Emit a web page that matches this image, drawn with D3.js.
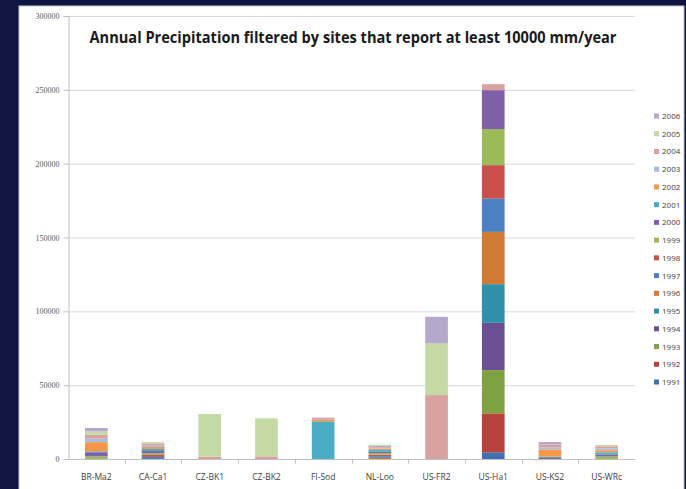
<!DOCTYPE html>
<html>
<head>
<meta charset="utf-8">
<script src="https://cdn.jsdelivr.net/npm/d3@7"></script>
<style>
  html, body { margin: 0; padding: 0; background: #0f1442; }
  svg { display: block; }
  text { font-family: "Open Sans", "Liberation Sans", sans-serif; }
</style>
</head>
<body>
<svg id="chart" width="686" height="489"></svg>
<script>
// Sites on the x axis
const sites = ["BR-Ma2", "CA-Ca1", "CZ-BK1", "CZ-BK2", "FI-Sod", "NL-Loo", "US-FR2", "US-Ha1", "US-KS2", "US-WRc"];

// Years stacked in each bar (bottom to top)
const years = [1991, 1992, 1993, 1994, 1995, 1996, 1997, 1998, 1999, 2000, 2001, 2002, 2003, 2004, 2005, 2006];

// Precipitation per year (rows) and site (columns, same order as sites)
const values = [
  /* 1991 */ [0, 0, 0, 0, 0, 0, 0, 4500, 0, 0],
  /* 1992 */ [0, 0, 0, 0, 0, 0, 0, 26400, 0, 0],
  /* 1993 */ [0, 0, 0, 0, 0, 0, 0, 29300, 0, 0],
  /* 1994 */ [0, 0, 0, 0, 0, 0, 0, 32000, 0, 0],
  /* 1995 */ [0, 0, 0, 0, 0, 0, 0, 26200, 0, 0],
  /* 1996 */ [0, 0, 0, 0, 0, 800, 0, 35400, 0, 0],
  /* 1997 */ [0, 1400, 0, 0, 0, 1100, 0, 22600, 0, 0],
  /* 1998 */ [0, 1300, 0, 0, 0, 1000, 0, 22600, 0, 0],
  /* 1999 */ [1800, 1200, 0, 0, 0, 1100, 0, 24400, 0, 1700],
  /* 2000 */ [2800, 1500, 0, 0, 0, 900, 0, 26400, 700, 1200],
  /* 2001 */ [600, 1400, 0, 0, 25500, 1300, 0, 0, 800, 1600],
  /* 2002 */ [6200, 1300, 0, 0, 1200, 800, 0, 0, 5000, 1400],
  /* 2003 */ [2400, 1200, 0, 0, 0, 1000, 0, 0, 1400, 1300],
  /* 2004 */ [2600, 1300, 1500, 1800, 1300, 900, 43300, 4000, 1900, 1400],
  /* 2005 */ [2400, 800, 29000, 25700, 0, 800, 35000, 0, 0, 900],
  /* 2006 */ [2200, 0, 0, 0, 0, 0, 18000, 0, 1700, 0]
];

// One colour per year
const yearColors = [
  "#3f70af", "#b9413c", "#80a142", "#6b4f95", "#2f90aa", "#d07a32",
  "#4b80c2", "#c9504c", "#9bbb59", "#7f60a8", "#4bacc6", "#f79646",
  "#a7bedc", "#d9a1a0", "#c4d9a3", "#b5a8cb"
];

const yTicks = [0, 50000, 100000, 150000, 200000, 250000, 300000];

const titleText = "Annual Precipitation filtered by sites that report at least 10000 mm/year";

// Build one row per site for the stack layout
const table = sites.map((s, i) => {
  const row = { site: s };
  years.forEach((y, j) => { row[y] = values[j][i]; });
  return row;
});

const svg = d3.select("#chart");

// White panel on the navy background
svg.append("rect")
  .attr("x", 19).attr("y", 6).attr("width", 665).attr("height", 490)
  .attr("fill", "#ffffff")
  .attr("stroke", "#c8c8c8").attr("stroke-width", 1);

const plot = { left: 68, right: 635, top: 16, bottom: 459 };

const x = d3.scaleBand().domain(sites).range([plot.left, plot.right]).paddingInner(0.6).paddingOuter(0.3);
const xOuter = d3.scaleBand().domain(sites).range([plot.left, plot.right]);
const y = d3.scaleLinear().domain([0, 300000]).range([plot.bottom, plot.top]);
const color = d3.scaleOrdinal().domain(years).range(yearColors);

// Gridlines
svg.append("g")
  .selectAll("line")
  .data(yTicks.slice(1))
  .join("line")
  .attr("x1", plot.left).attr("x2", plot.right)
  .attr("y1", d => y(d) + 0.5).attr("y2", d => y(d) + 0.5)
  .attr("stroke", "#d9d9d9").attr("stroke-width", 1);

// Y axis
const yAxis = svg.append("g")
  .attr("transform", `translate(${plot.left + 0.5},0)`)
  .call(d3.axisLeft(y).tickValues(yTicks).tickSize(5).tickPadding(4).tickFormat(d3.format("d")));
yAxis.select(".domain").attr("stroke", "#bfbfbf");
yAxis.selectAll(".tick line").attr("stroke", "#bfbfbf");
yAxis.selectAll("text").attr("fill", "#595959").style("font-size", "8px")
  .style("font-family", "'Liberation Serif', serif");

// Stacked bars
const stack = d3.stack().keys(years);
const layers = stack(table);

svg.append("g")
  .selectAll("g")
  .data(layers)
  .join("g")
  .attr("fill", d => color(d.key))
  .selectAll("rect")
  .data(d => d.filter(p => p[1] > p[0]))
  .join("rect")
  .attr("x", d => x(d.data.site))
  .attr("width", x.bandwidth())
  .attr("y", d => y(d[1]))
  .attr("height", d => y(d[0]) - y(d[1]));

// X axis with ticks between categories
const xAxisG = svg.append("g").attr("transform", `translate(0,${plot.bottom + 0.5})`);
xAxisG.append("line")
  .attr("x1", plot.left).attr("x2", plot.right)
  .attr("stroke", "#bfbfbf");
xAxisG.selectAll("line.tk")
  .data(sites.slice(1))
  .join("line")
  .attr("class", "tk")
  .attr("x1", d => Math.round(xOuter(d)) + 0.5).attr("x2", d => Math.round(xOuter(d)) + 0.5)
  .attr("y1", 0).attr("y2", 4)
  .attr("stroke", "#bfbfbf");
xAxisG.selectAll("text")
  .data(sites)
  .join("text")
  .attr("x", d => xOuter(d) + xOuter.bandwidth() / 2)
  .attr("y", 20)
  .attr("text-anchor", "middle")
  .attr("fill", "#404040")
  .style("font-size", "8.5px")
  .text(d => d);

// Title
svg.append("text")
  .attr("x", 353).attr("y", 43)
  .attr("text-anchor", "middle")
  .attr("fill", "#1a1a1a")
  .attr("textLength", 527)
  .attr("lengthAdjust", "spacingAndGlyphs")
  .style("font-size", "15.5px")
  .style("font-weight", "bold")
  .text(titleText);

// Legend, newest year on top
const legendYears = years.slice().reverse();
const legendY = d3.scalePoint().domain(legendYears).range([116, 382]);
const legend = svg.append("g");
const item = legend.selectAll("g")
  .data(legendYears)
  .join("g")
  .attr("transform", d => `translate(654,${legendY(d)})`);
item.append("rect")
  .attr("x", 0).attr("y", -2.5).attr("width", 5).attr("height", 5)
  .attr("fill", d => color(d));
item.append("text")
  .attr("x", 8).attr("y", 3)
  .attr("fill", "#404040")
  .style("font-size", "8px")
  .text(d => d);
</script>
</body>
</html>
